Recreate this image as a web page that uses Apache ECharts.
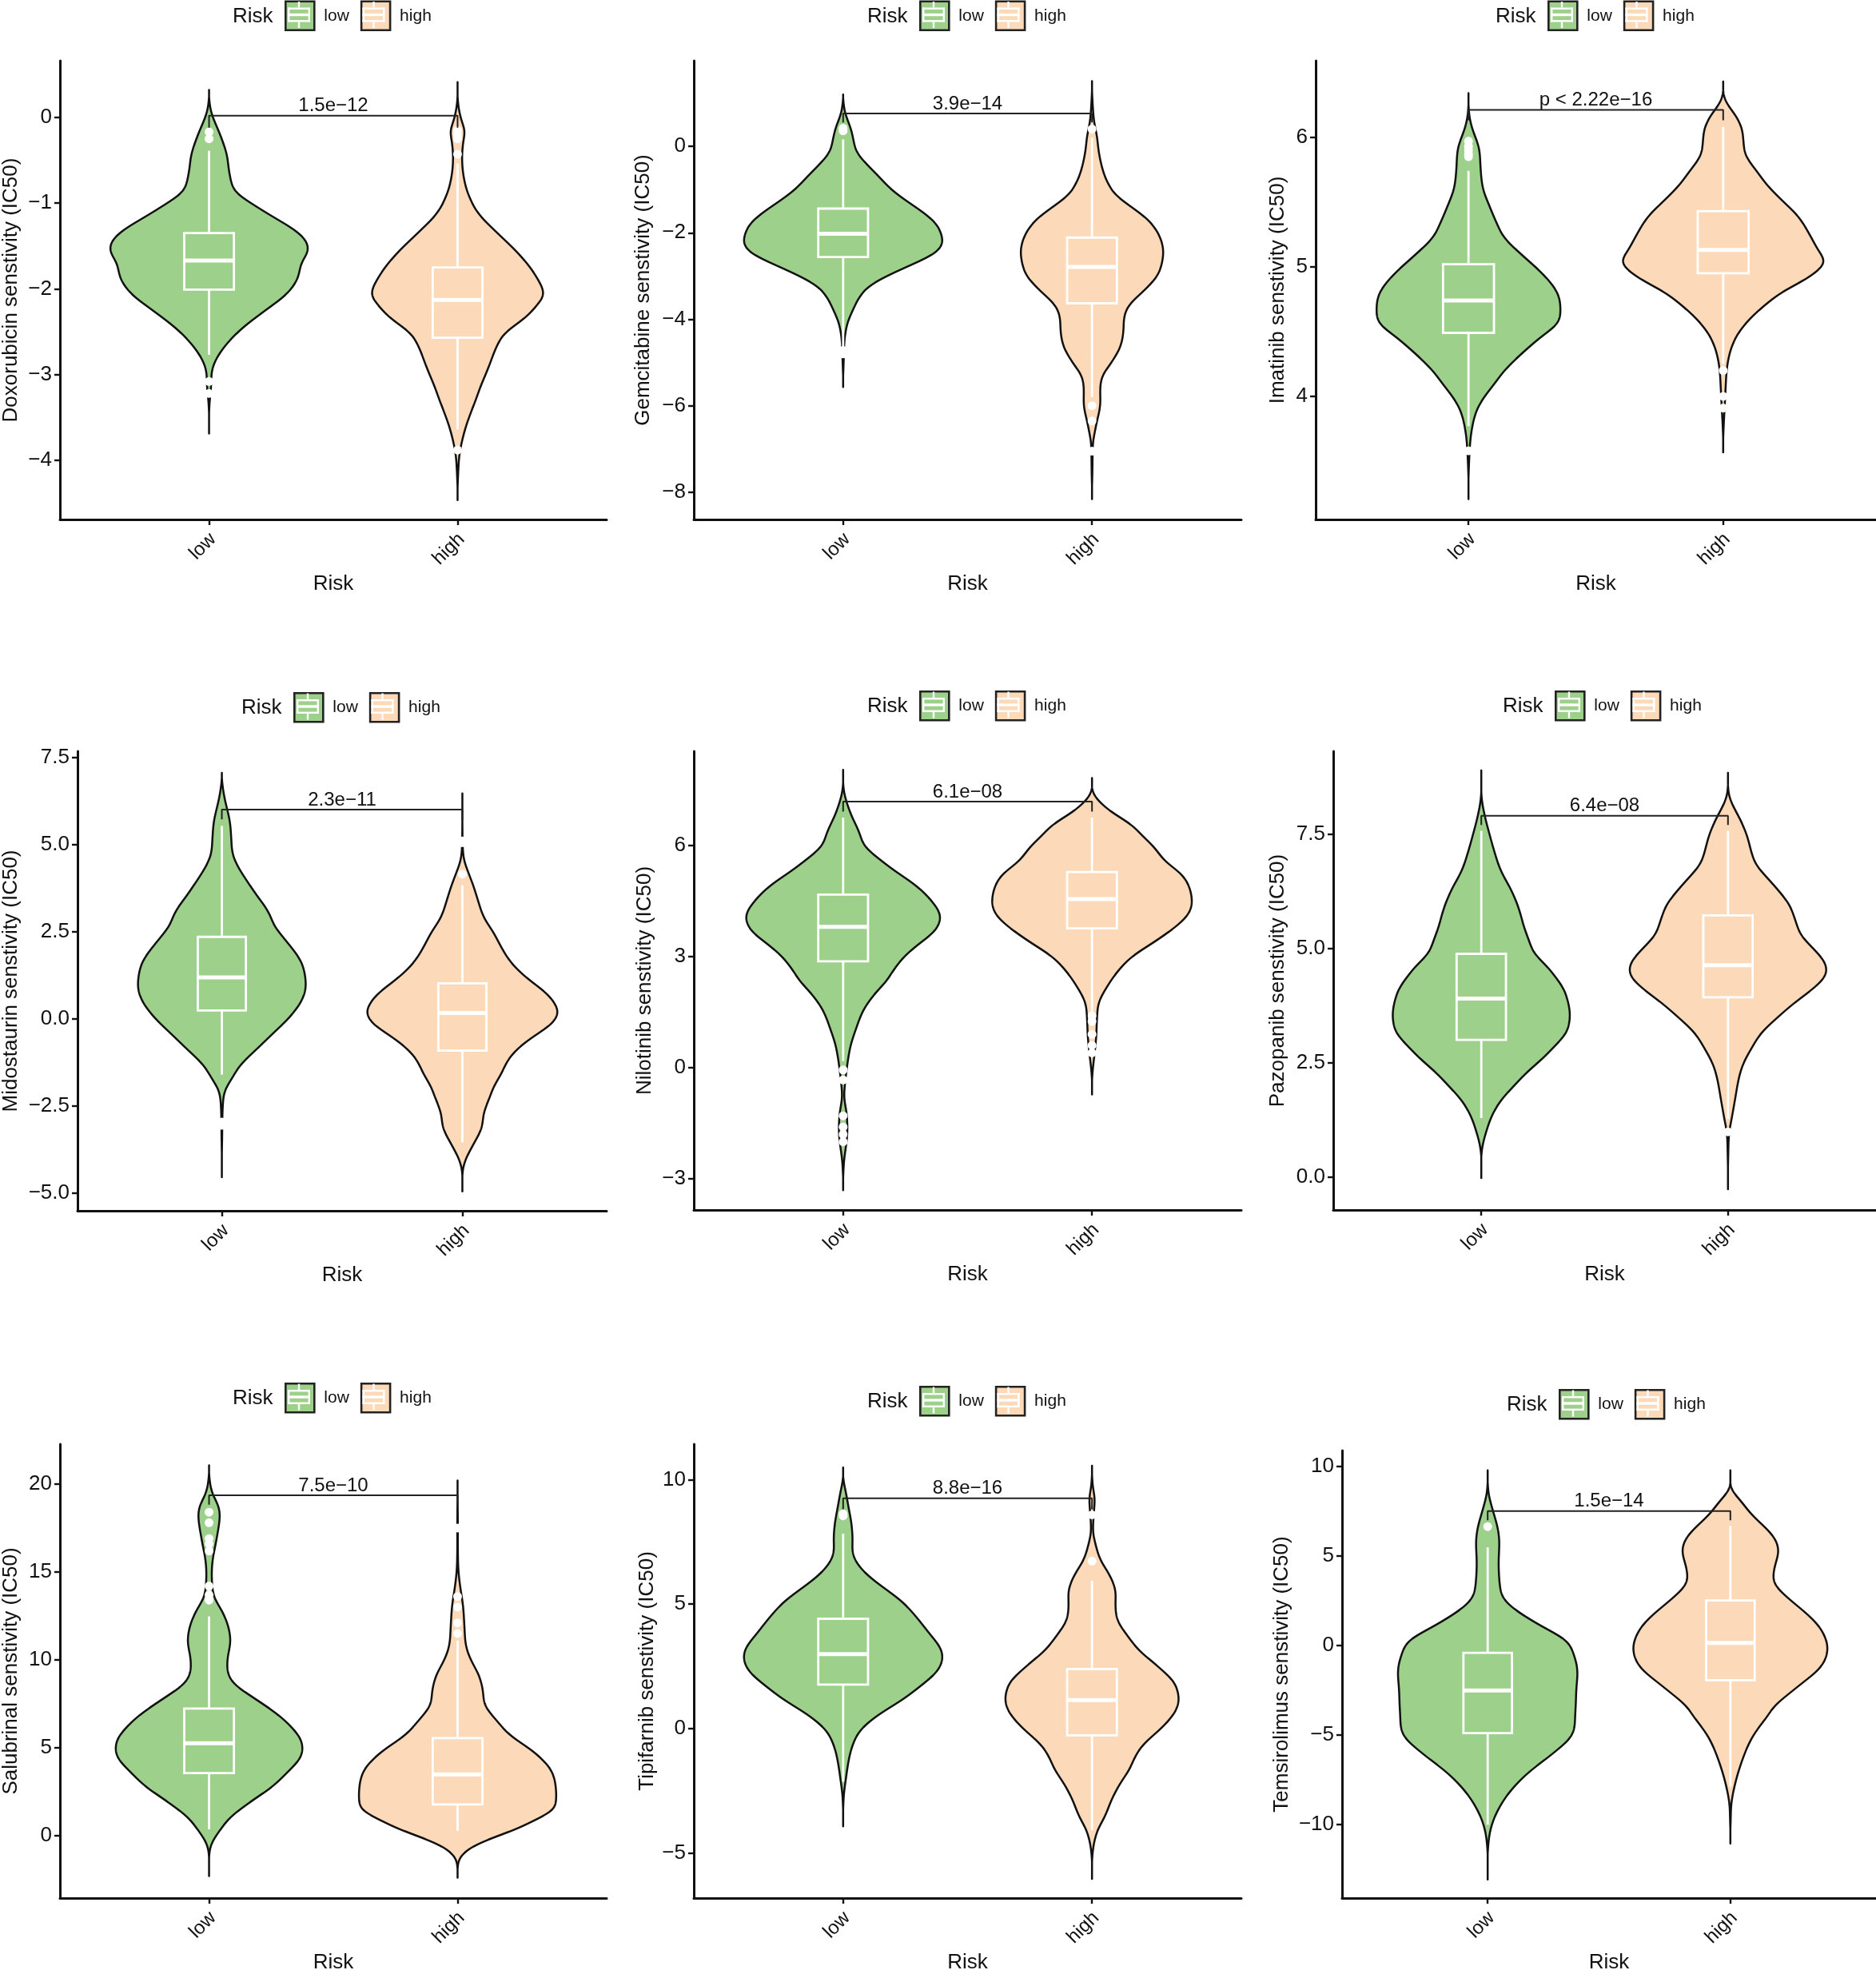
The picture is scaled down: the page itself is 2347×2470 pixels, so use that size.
<!DOCTYPE html>
<html>
<head>
<meta charset="utf-8">
<style>html,body{margin:0;padding:0;background:#fff}#chart{width:2347px;height:2470px}</style>
<script src="https://cdn.jsdelivr.net/npm/echarts@6/dist/echarts.min.js"></script>
</head>
<body>
<div id="chart"></div>
<script>
// ---------- chart text and values ----------
const groups = ['low', 'high'];
const drugs = ['Doxorubicin', 'Gemcitabine', 'Imatinib', 'Midostaurin', 'Nilotinib', 'Pazopanib', 'Salubrinal', 'Tipifarnib', 'Temsirolimus'];
const pValues = ['1.5e\u221212', '3.9e\u221214', 'p < 2.22e\u221216', '2.3e\u221211', '6.1e\u221208', '6.4e\u221208', '7.5e\u221210', '8.8e\u221216', '1.5e\u221214'];
const bracketY = [0.02, 0.76, 6.21, 6.0, 7.18, 7.9, 19.36, 9.25, 7.52];
const bracketTip = [-0.12, 0.55, 6.13, 5.72, 6.91, 7.7, 18.83, 8.81, 7.01];
const yMin = [-4.69, -8.63, 3.05, -5.5, -3.84, -0.72, -3.55, -6.82, -14.1];
const yMax = [0.66, 1.98, 6.59, 7.67, 8.54, 9.31, 22.27, 11.43, 10.9];
const yTicks = [
  [-4, -3, -2, -1, 0], [-8, -6, -4, -2, 0], [4, 5, 6],
  [-5, -2.5, 0, 2.5, 5, 7.5], [-3, 0, 3, 6], [0, 2.5, 5, 7.5],
  [0, 5, 10, 15, 20], [-5, 0, 5, 10], [-10, -5, 0, 5, 10]
];
const yDecimals = [0, 0, 0, 1, 0, 1, 0, 0, 0];

// Violin outlines: [value, half width as % of the low-high distance]
const doxorubicinLow = [[.32,0],[.14,.5],[.01,1.6],[-.22,4.9],[-.44,7.4],[-.62,8.2],[-.85,10.3],[-.98,16],[-1.16,25.9],[-1.3,34],[-1.43,39],[-1.56,40.1],[-1.7,37.3],[-1.89,35.7],[-2.07,31.1],[-2.25,22.9],[-2.47,13.1],[-2.7,5.7],[-2.92,1.6],[-3.15,1],[-3.37,.3],[-3.69,0]];
const doxorubicinHigh = [[.41,0],[.19,.3],[.01,1.3],[-.17,3.3],[-.22,2.8],[-.44,2],[-.67,2.5],[-.89,4.4],[-1.12,8.5],[-1.34,15.9],[-1.57,24.1],[-1.8,30.6],[-2.04,34.9],[-2.16,33],[-2.34,27.3],[-2.52,19.1],[-2.7,15.5],[-2.92,12.6],[-3.15,9.3],[-3.28,7.7],[-3.6,3.6],[-3.87,1.3],[-4.05,.6],[-4.46,0]];
const gemcitabineLow = [[1.2,0],[.93,.5],[.76,1],[.58,2.2],[.37,3.5],[.16,4.3],[-.13,5.6],[-.41,9.6],[-.69,14.4],[-.98,19.2],[-1.26,25.6],[-1.54,32.7],[-1.82,38],[-2.11,40],[-2.25,40.2],[-2.46,37.5],[-2.67,30.4],[-2.96,19.2],[-3.24,10.4],[-3.52,6.4],[-3.8,4],[-4.09,1.9],[-4.44,.8],[-4.8,.5],[-5.15,.3],[-5.56,0]];
const gemcitabineHigh = [[1.51,0],[.93,.5],[.58,1],[.23,2.2],[-.13,2.9],[-.55,4.5],[-.83,6.4],[-1.12,9.6],[-1.4,16],[-1.68,22.4],[-1.97,26.4],[-2.25,28.4],[-2.53,28.8],[-2.96,26.8],[-3.31,21.6],[-3.66,15.2],[-3.95,13.1],[-4.3,12.8],[-4.65,11.5],[-5,8],[-5.29,4.5],[-5.57,3.5],[-6,3.5],[-6.35,2.2],[-6.7,1],[-6.92,.5],[-7.63,.3],[-8.15,0]];
const imatinibLow = [[6.34,0],[6.21,.3],[6.12,.9],[6.03,2.3],[5.91,4.4],[5.74,5],[5.6,5.9],[5.46,8.6],[5.34,11.2],[5.22,14.4],[5.08,21.8],[4.94,29.6],[4.8,35.1],[4.67,36.3],[4.56,35.1],[4.45,28.1],[4.33,21.1],[4.21,14.8],[4.09,10.1],[3.97,5.5],[3.86,2.8],[3.71,1.2],[3.57,.6],[3.38,.2],[3.21,0]];
const imatinibHigh = [[6.43,0],[6.33,.3],[6.26,1.6],[6.17,5],[6.07,7.5],[5.98,8.1],[5.86,9],[5.74,13.3],[5.62,17.9],[5.51,23.4],[5.39,29.6],[5.27,33.5],[5.13,37.4],[5.04,40.1],[4.96,36.7],[4.87,29.6],[4.8,22.9],[4.68,15.1],[4.56,8.9],[4.45,5],[4.33,2.7],[4.21,1.6],[4.09,1.2],[3.97,.9],[3.86,.6],[3.74,.3],[3.57,0]];
const midostaurinLow = [[7.05,0],[6.68,.5],[6.33,1.3],[5.98,2.5],[5.63,3.6],[5.19,4.1],[4.75,4.6],[4.4,6.6],[4,10.2],[3.53,14.8],[3.09,19.4],[2.65,22.2],[2.21,27.2],[1.77,32.1],[1.42,34.3],[.89,35.1],[.46,32.9],[.02,28],[-.42,21.4],[-.86,14.8],[-1.3,8.2],[-1.74,4.1],[-2.09,1.3],[-2.61,.5],[-3.49,.3],[-4.54,0]];
const midostaurinHigh = [[6.46,0],[5.63,.2],[5.02,.3],[4.58,.8],[4.23,2.5],[3.79,4.9],[3.35,6.9],[2.91,9.1],[2.47,13.2],[2.04,16.5],[1.6,20.6],[1.16,27.2],[.72,35.4],[.37,39.2],[.15,40],[-.16,37.1],[-.51,29.7],[-.86,23.1],[-1.21,18.9],[-1.56,16.5],[-1.91,13.5],[-2.26,11.5],[-2.7,9.1],[-3.14,8.2],[-3.58,4.9],[-4.02,1.6],[-4.37,.3],[-4.94,0]];
const nilotinibLow = [[8.04,0],[7.56,.3],[7.23,1.3],[6.81,3.5],[6.4,6.4],[5.98,8.8],[5.65,14.4],[5.32,20.8],[4.91,29.6],[4.49,35.9],[4.16,39.1],[3.95,39.1],[3.66,36.7],[3.33,30.4],[3,24.8],[2.67,20.8],[2.34,17.6],[1.92,12],[1.51,8],[1.09,5.6],[.6,3.2],[.1,1.9],[-.4,1],[-.81,.6],[-1.23,1.6],[-1.72,1.9],[-2.14,1.3],[-2.55,.5],[-3.3,0]];
const nilotinibHigh = [[7.82,0],[7.47,.3],[7.23,2.4],[6.9,8],[6.56,16],[6.23,20.8],[5.98,24.8],[5.57,29.6],[5.24,35.9],[4.91,39.1],[4.49,40.4],[4.16,39.1],[3.83,34.3],[3.41,25.6],[3,16.3],[2.59,10.4],[2.17,6.1],[1.76,2.9],[1.34,2.2],[.85,1.9],[.43,1.3],[.02,.6],[-.31,.2],[-.73,0]];
const pazopanibLow = [[8.89,0],[8.31,.3],[7.9,1.6],[7.5,3.5],[7.1,5.6],[6.7,8.1],[6.3,12.1],[5.89,15.3],[5.49,17.4],[5.16,19.6],[4.89,21.7],[4.62,26.6],[4.35,30.6],[4.09,33.8],[3.75,35.7],[3.48,36.1],[3.15,34.6],[2.81,29],[2.55,24.2],[2.28,18.5],[2.01,13.7],[1.67,8.1],[1.34,4.5],[.94,1.9],[.54,.3],[-.03,0]];
const pazopanibHigh = [[8.84,0],[8.37,.5],[8.1,2.4],[7.77,5.6],[7.43,8.1],[7.1,9.7],[6.83,11.6],[6.56,15.8],[6.3,20.1],[5.96,25],[5.63,27.4],[5.29,29.8],[4.96,35.4],[4.69,39.5],[4.42,39.9],[4.15,35.4],[3.82,27.4],[3.48,20.1],[3.15,13.7],[2.81,9.7],[2.48,6.4],[2.14,4.5],[1.74,3.2],[1.34,1.9],[.94,.6],[.47,.3],[-.27,0]];
const salubrinalLow = [[21.07,0],[20.12,.5],[19.43,1.6],[18.75,4],[18.06,4.5],[16.86,3.2],[15.65,1.6],[14.62,1.3],[13.59,2.2],[12.73,5.6],[11.87,8],[11.01,8.8],[10.15,7.7],[9.3,7.7],[8.61,10.4],[7.75,19.1],[6.89,27.9],[6.03,34.3],[5.34,37.5],[4.48,37.2],[3.63,31.9],[2.77,25.5],[1.91,16.7],[1.05,8.8],[.19,4],[-.5,1],[-1.19,.2],[-2.3,0]];
const salubrinalHigh = [[20.2,0],[19.09,.2],[17.54,.3],[16.34,.3],[15.14,.5],[14.11,1.3],[13.08,2.4],[12.04,2.9],[10.84,3.5],[9.98,5.6],[9.12,8.8],[8.26,10.4],[7.41,11.2],[6.55,15.9],[5.69,21.5],[4.83,30.3],[3.97,36.7],[3.28,39.1],[2.42,39.9],[1.74,39.6],[1.39,38.3],[.88,31.1],[.36,23.6],[-.5,7.7],[-1.19,1.3],[-1.7,.3],[-2.39,0]];
const tipifarnibLow = [[10.49,0],[9.98,.3],[9.49,1.3],[8.87,2.4],[8.26,3.5],[7.65,4],[7.04,4],[6.55,6.4],[6.06,11.2],[5.57,17.7],[5.08,24.1],[4.47,29.7],[3.86,34.5],[3.24,39.3],[2.75,40.1],[2.26,37.7],[1.77,32.1],[1.16,24.1],[.55,14.4],[-.06,7.2],[-.67,4],[-1.29,2.4],[-2.02,1.3],[-2.63,.5],[-3.24,.2],[-3.95,0]];
const tipifarnibHigh = [[10.56,0],[9.73,.5],[9.24,1.3],[8.51,.8],[7.89,.6],[7.41,1.6],[6.79,3.5],[6.18,7.2],[5.57,9.6],[4.96,9.6],[4.35,10.4],[3.73,14.4],[3.12,19.3],[2.51,26.5],[1.9,32.9],[1.41,34.8],[1.04,35],[.55,32.9],[-.06,27.3],[-.55,21.7],[-1.04,18],[-1.65,15.2],[-2.26,11.2],[-2.88,8],[-3.49,5.6],[-4.1,2.4],[-4.71,.8],[-5.32,.2],[-6.06,0]];
const temsirolimusLow = [[9.79,0],[8.56,.5],[7.71,2],[6.65,4.2],[5.81,5],[4.53,4.7],[3.26,5.3],[2.63,6.7],[1.99,11.7],[1.14,21.7],[.3,32.5],[-.55,35.8],[-1.4,37.2],[-2.46,36.7],[-3.73,36.3],[-5,35],[-6.06,26.7],[-7.12,16.7],[-8.18,9.2],[-9.24,4.2],[-10.3,1.3],[-11.57,.2],[-13.05,0]];
const temsirolimusHigh = [[9.79,0],[8.77,.5],[8.14,4.2],[7.29,9.2],[6.44,15.8],[5.81,19.2],[5.17,20],[4.32,18.3],[3.47,18.3],[2.63,24.2],[1.78,31.7],[.93,37.5],[-.13,40.3],[-1.19,37.5],[-2.25,28.3],[-3.31,18.8],[-3.94,15.5],[-5.21,8.8],[-6.91,3.8],[-8.6,.8],[-9.87,.3],[-11.08,0]];

// Box stats: [whisker top, q3, median, q1, whisker bottom]
const boxesLow = [[-.39,-1.35,-1.67,-2.01,-2.77],[.16,-1.44,-2.02,-2.56,-4.65],[5.74,5.02,4.74,4.49,3.77],[5.53,2.35,1.19,.24,-1.6],[6.75,4.67,3.8,2.87,.18],[7.57,4.88,3.9,3,1.29],[12.47,7.23,5.26,3.56,.36],[7.83,4.41,2.99,1.76,-2.14],[5.49,-.4,-2.5,-4.89,-10]];
const boxesHigh = [[-.54,-1.75,-2.13,-2.57,-3.64],[.2,-2.11,-2.79,-3.63,-5.8],[6.08,5.43,5.13,4.95,4.25],[3.83,1.02,.17,-.91,-3.54],[6.75,5.28,4.55,3.76,1.5],[7.57,5.72,4.63,3.93,1.27],[11.1,5.55,3.49,1.77,.27],[5.94,2.39,1.14,-.28,-4.1],[6.69,2.52,.15,-1.93,-7.86]];

// Outlier points
const outliersLow = [[-.17,-.25,-3.08,-3.22],[.36,.42,-4.72,-4.8],[5.97,5.93,5.9,5.87,5.85,3.58],[-2.96,-3.05],[-.06,-.33,-1.3,-1.6,-1.8,-2],[],[18.4,17.8,16.9,16.6,16.2,14.2,13.7,13.4],[8.63,8.55],[6.65]];
const outliersHigh = [[-.15,-.2,-.25,-.43,-3.88],[.4,-6,-6.35,-7.05],[4.2,4,3.91],[5.05,5.1,4.15],[1.4,1.25,.9,.6,.4],[.99],[17.5,13.6,13,12.1,11.5],[8.59,6.73],[]];

const violinsLow = [doxorubicinLow, gemcitabineLow, imatinibLow, midostaurinLow, nilotinibLow, pazopanibLow, salubrinalLow, tipifarnibLow, temsirolimusLow];
const violinsHigh = [doxorubicinHigh, gemcitabineHigh, imatinibHigh, midostaurinHigh, nilotinibHigh, pazopanibHigh, salubrinalHigh, tipifarnibHigh, temsirolimusHigh];

// ---------- layout and style ----------
const panelLeft = [74, 868, 1646, 96, 868, 1668, 74, 868, 1679];
const panelRight = [759, 1553, 2347, 759, 1553, 2347, 759, 1553, 2347];
const panelTop = [76, 76, 76, 940, 940, 940, 1807, 1807, 1815];
const panelBottom = [650, 650, 650, 1515, 1514, 1514, 2380, 2380, 2380];
const yNameGap = [48, 50, 34, 70, 48, 56, 48, 45, 62];
const keyLeft = [356, 1150, 1936, 367, 1150, 1945, 356, 1150, 1950];
const keyMiddle = [18.5, 18.5, 18.5, 884, 882, 882, 1748, 1752, 1756];
const KEY = 36;
const FONT = '"Liberation Sans", Arial, sans-serif';
const fillColors = { low: '#9dd08a', high: '#fcd9b8' };

// Smooth drawing of the outline: spline, then a light blur in pixel space.
function smoothOutline(pts) {
  const dense = [];
  for (let i = 0; i < pts.length - 1; i++) {
    const p0 = pts[Math.max(i - 1, 0)], p1 = pts[i], p2 = pts[i + 1], p3 = pts[Math.min(i + 2, pts.length - 1)];
    for (let k = 0; k < 12; k++) {
      const t = k / 12, t2 = t * t, t3 = t2 * t;
      const f = (a, b, c, d) => 0.5 * (2 * b + (c - a) * t + (2 * a - 5 * b + 4 * c - d) * t2 + (3 * b - a - 3 * c + d) * t3);
      dense.push([f(p0[0], p1[0], p2[0], p3[0]), Math.max(0, f(p0[1], p1[1], p2[1], p3[1]))]);
    }
  }
  dense.push(pts[pts.length - 1]);
  const y0 = dense[0][0], y1 = dense[dense.length - 1][0];
  const n = Math.round(y1 - y0);
  let w = [], j = 0;
  for (let s = 0; s <= n; s++) {
    const y = y0 + s;
    while (j < dense.length - 2 && dense[j + 1][0] < y) j++;
    const a = dense[j], b = dense[j + 1];
    const t = b[0] > a[0] ? Math.min(1, Math.max(0, (y - a[0]) / (b[0] - a[0]))) : 0;
    w.push(a[1] + (b[1] - a[1]) * t);
  }
  const R = 6;
  for (let pass = 0; pass < 2; pass++) {
    const next = [];
    for (let s = 0; s <= n; s++) {
      let sum = 0, c = 0;
      for (let q = Math.max(0, s - R); q <= Math.min(n, s + R); q++) { sum += w[q]; c++; }
      next.push(sum / c);
    }
    w = next;
  }
  return w.map(function (v, s) { return [y0 + s, Math.max(0, v - 0.6)]; });
}

function violinSeries(i, g, center, outline, box) {
  return {
    type: 'custom', name: g, xAxisIndex: i, yAxisIndex: i, z: 2, silent: true,
    encode: { x: 0, y: [1, 2, 3, 4, 5] },
    data: [[center].concat(box)],
    renderItem: function (params, api) {
      const cx = api.value(0);
      const top = api.value(1), q3 = api.value(2), med = api.value(3), q1 = api.value(4), bot = api.value(5);
      const x0 = api.coord([cx, 0])[0];
      const unit = api.coord([cx + 1, 0])[0] - x0;
      const prof = smoothOutline(outline.map(function (p) { return [api.coord([cx, p[0]])[1], p[1] / 100 * unit]; }));
      const right = prof.map(function (p) { return [x0 + p[1], p[0]]; });
      const left = prof.slice().reverse().map(function (p) { return [x0 - p[1], p[0]]; });
      const bx = 0.1;
      const ln = function (a, b, w) {
        return { type: 'line', shape: { x1: a[0], y1: a[1], x2: b[0], y2: b[1] }, style: { stroke: '#fff', lineWidth: w, fill: null } };
      };
      const tl = api.coord([cx - bx, q3]), br = api.coord([cx + bx, q1]);
      return {
        type: 'group',
        children: [
          { type: 'polygon', shape: { points: right.concat(left) }, style: { fill: fillColors[g], stroke: '#111', lineWidth: 2.5, lineJoin: 'round' } },
          ln(api.coord([cx, top]), api.coord([cx, q3]), 2.8),
          ln(api.coord([cx, q1]), api.coord([cx, bot]), 2.8),
          { type: 'rect', shape: { x: tl[0], y: tl[1], width: br[0] - tl[0], height: br[1] - tl[1] }, style: { fill: null, stroke: '#fff', lineWidth: 2.8 } },
          ln(api.coord([cx - bx, med]), api.coord([cx + bx, med]), 5)
        ]
      };
    }
  };
}

const grids = [], xAxes = [], yAxes = [], series = [], legends = [], graphics = [];
const measure = document.createElement('canvas').getContext('2d');
measure.font = '21px ' + FONT;
const keyStep = KEY + 12 + measure.measureText('low').width + 14;

drugs.forEach(function (drug, i) {
  grids.push({ left: panelLeft[i], top: panelTop[i], width: panelRight[i] - panelLeft[i], height: panelBottom[i] - panelTop[i], containLabel: false });
  xAxes.push({
    type: 'value', gridIndex: i, min: 0.4, max: 2.6, name: 'Risk', nameLocation: 'middle', nameGap: 68,
    nameTextStyle: { fontFamily: FONT, fontSize: 26, color: '#111' },
    axisLine: { show: true, onZero: false, lineStyle: { color: '#111', width: 3 } },
    axisTick: { show: true, length: 7, customValues: [1, 2], lineStyle: { color: '#111', width: 2.4 } },
    axisLabel: { customValues: [1, 2], rotate: 45, margin: 26, padding: [0, -7, 0, 0], fontFamily: FONT, fontSize: 24, color: '#111', formatter: function (v) { return groups[Math.round(v) - 1]; } },
    splitLine: { show: false }
  });
  yAxes.push({
    type: 'value', gridIndex: i, min: yMin[i], max: yMax[i], name: drug + ' senstivity (IC50)', nameLocation: 'middle', nameGap: yNameGap[i],
    nameTextStyle: { fontFamily: FONT, fontSize: 26, color: '#111' },
    axisLine: { show: true, onZero: false, lineStyle: { color: '#111', width: 3 } },
    axisTick: { show: true, length: 7, customValues: yTicks[i], lineStyle: { color: '#111', width: 2.4 } },
    axisLabel: { customValues: yTicks[i], margin: 10, fontFamily: FONT, fontSize: 26, color: '#111', formatter: function (v) { return v.toFixed(yDecimals[i]).replace('-', '\u2212'); } },
    splitLine: { show: false }
  });

  series.push(violinSeries(i, 'low', 1, violinsLow[i], boxesLow[i]));
  series.push(violinSeries(i, 'high', 2, violinsHigh[i], boxesHigh[i]));
  series.push({
    type: 'scatter', name: 'outliers', xAxisIndex: i, yAxisIndex: i, z: 3, silent: true, symbolSize: 11,
    itemStyle: { color: '#fff', opacity: 1 },
    data: outliersLow[i].map(function (v) { return [1, v]; }).concat(outliersHigh[i].map(function (v) { return [2, v]; }))
  });
  series.push({
    type: 'line', name: 'bracket', xAxisIndex: i, yAxisIndex: i, z: 4, silent: true, showSymbol: false, symbol: 'none',
    lineStyle: { color: '#222', width: 2 },
    data: [[1, bracketTip[i]], [1, bracketY[i]], [2, bracketY[i]], [2, bracketTip[i]]]
  });
  series.push({
    type: 'scatter', name: 'p value', xAxisIndex: i, yAxisIndex: i, z: 5, silent: true, symbolSize: 0,
    itemStyle: { opacity: 1 },
    data: [[1.5, bracketY[i]]],
    label: { show: true, position: 'top', distance: 0, formatter: pValues[i], fontFamily: FONT, fontSize: 24, color: '#111', opacity: 1 }
  });

  legends.push({
    left: keyLeft[i], top: keyMiddle[i] - KEY / 2, padding: 0, orient: 'horizontal', itemWidth: KEY, itemHeight: KEY, itemGap: 14,
    selectedMode: false, icon: 'rect',
    textStyle: { fontFamily: FONT, fontSize: 21, color: '#111', padding: [0, 0, 0, 7] },
    data: groups.map(function (g) { return { name: g, itemStyle: { color: fillColors[g], borderColor: '#222', borderWidth: 2.6 } }; })
  });

  graphics.push({
    type: 'text', left: keyLeft[i] - 65, top: keyMiddle[i] - 11, z: 100,
    style: { text: 'Risk', font: '26px ' + FONT, fill: '#111' }
  });

  // White box glyph inside each legend key.
  [0, keyStep].forEach(function (dx) {
    const x = keyLeft[i] + dx, y = keyMiddle[i] - KEY / 2;
    const white = function (left, top, w, h) {
      graphics.push({ type: 'rect', left: left, top: top, z: 100, shape: { width: w, height: h }, style: { fill: '#fff' } });
    };
    white(x + 4, y + 9, KEY - 8, 2.4);
    white(x + 4, y + KEY - 11.4, KEY - 8, 2.4);
    white(x + 4, y + 9, 2.4, KEY - 18);
    white(x + KEY - 6.4, y + 9, 2.4, KEY - 18);
    white(x + 4, y + KEY / 2 - 1.7, KEY - 8, 3.4);
    white(x + KEY / 2 - 1.2, y + 1.5, 2.4, 7.5);
    white(x + KEY / 2 - 1.2, y + KEY - 9, 2.4, 7.5);
  });
});

const chart = echarts.init(document.getElementById('chart'), null, { renderer: 'canvas' });
chart.setOption({
  backgroundColor: '#fff', animation: false, tooltip: { show: false },
  grid: grids, xAxis: xAxes, yAxis: yAxes, series: series, legend: legends, graphic: graphics
});
</script>
</body>
</html>
